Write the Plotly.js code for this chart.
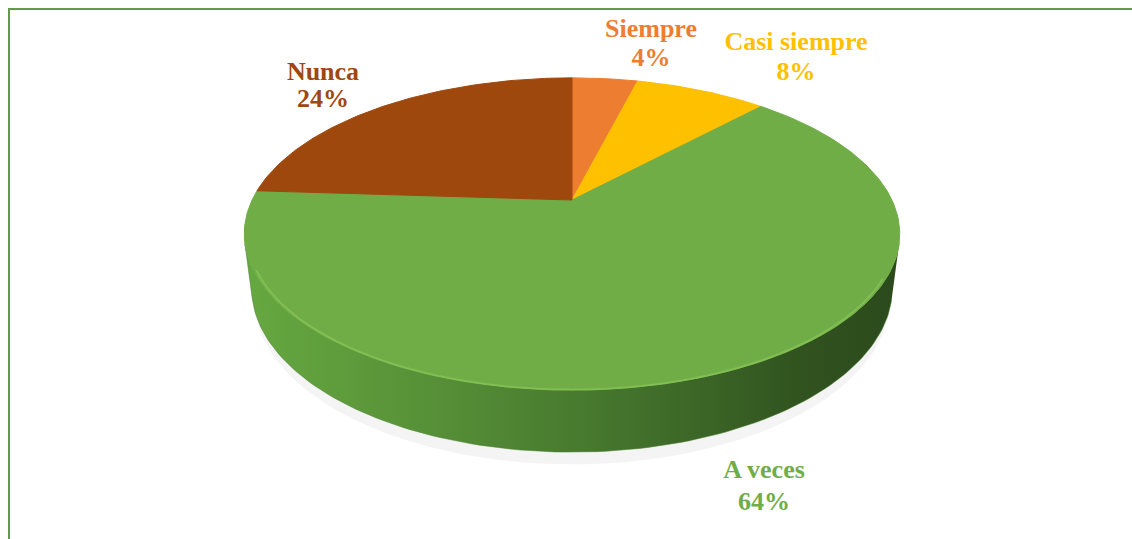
<!DOCTYPE html>
<html>
<head>
<meta charset="utf-8">
<script src="https://cdn.plot.ly/plotly-3.0.1.min.js"></script>
<style>
  html, body { margin: 0; padding: 0; background: #ffffff; }
  #chart { width: 1132px; height: 539px; }
  #chart text.textpoint, #chart text.textpoint tspan {
    font-family: "Liberation Serif", "Times New Roman", serif !important;
  }
</style>
</head>
<body>
<div id="chart"></div>
<script>
// ---- Data ----
const categories = ["Siempre", "Casi siempre", "A veces", "Nunca"];
const values = [4, 8, 64, 24];
const sliceColors = ["#ED7D31", "#FFC000", "#70AD47", "#9E480E"];
const percentLabels = values.map(v => v + "%");

// ---- 3D pie projection (perspective view of a tilted disc) ----
const CX = 572, CY = 200;          // screen position of the disc centre
const F = 1302, D = 4.07;          // focal length, camera distance (radius units)
const PHI = 27.7 * Math.PI / 180;  // elevation
const H = 0.191;                    // thickness (radius units)
const sP = Math.sin(PHI), cP = Math.cos(PHI);

function proj(thetaDeg, z, r) {
  r = (r === undefined) ? 1 : r;
  const t = thetaDeg * Math.PI / 180;
  const u = r * Math.sin(t), v = r * Math.cos(t);
  const yc = v * sP + z * cP;
  const depth = D + v * cP - z * sP;
  return [CX + F * u / depth, CY - F * yc / depth];
}

const traces = [];

// soft shadow under the pie
(function () {
  const xs = [], ys = [];
  for (let a = 0; a <= 360; a += 2) {
    const p = proj(a, -H - 0.03, 0.995);
    xs.push(p[0]); ys.push(p[1] + 4);
  }
  traces.push({x: xs, y: ys, type: "scatter", mode: "lines", fill: "toself",
    fillcolor: "rgba(110,110,110,0.08)", line: {width: 0, color: "rgba(0,0,0,0)"},
    hoverinfo: "skip"});
})();

// visible side wall (front-facing part of the cylinder)
(function () {
  const lim = Math.acos(-1 / (D * cP)) * 180 / Math.PI;
  const a0 = lim, a1 = 360 - lim;
  const xs = [], ys = [];
  const n = 120;
  for (let i = 0; i <= n; i++) {
    const a = a0 + (a1 - a0) * i / n;
    const p = proj(a, 0); xs.push(p[0]); ys.push(p[1]);
  }
  for (let i = n; i >= 0; i--) {
    const a = a0 + (a1 - a0) * i / n;
    const p = proj(a, -H); xs.push(p[0]); ys.push(p[1]);
  }
  traces.push({x: xs, y: ys, type: "scatter", mode: "lines", fill: "toself",
    fillgradient: {type: "horizontal",
      colorscale: [[0, "#66a840"], [0.3, "#568f37"], [0.6, "#42712b"], [0.85, "#31531f"], [1, "#2b4a1c"]]},
    line: {width: 0.5, color: "#4a7d30"}, hoverinfo: "skip"});
})();

// top face slices (clockwise from 12 o'clock)
(function () {
  const total = values.reduce((s, v) => s + v, 0);
  let start = 0;
  values.forEach((v, i) => {
    const end = start + v / total * 360;
    const c = proj(0, 0, 0);
    const xs = [c[0]], ys = [c[1]];
    const steps = Math.max(4, Math.ceil(end - start));
    for (let k = 0; k <= steps; k++) {
      const a = start + (end - start) * k / steps;
      const p = proj(a, 0); xs.push(p[0]); ys.push(p[1]);
    }
    xs.push(c[0]); ys.push(c[1]);
    traces.push({x: xs, y: ys, type: "scatter", mode: "lines", fill: "toself",
      fillcolor: sliceColors[i], line: {width: 1, color: sliceColors[i]},
      name: categories[i], hoverinfo: "skip"});
    start = end;
  });
})();

// light bevel along the front rim
(function () {
  const xs = [], ys = [];
  for (let a = 118; a <= 245; a += 1) {
    const p = proj(a, -0.006, 0.99); xs.push(p[0]); ys.push(p[1]);
  }
  traces.push({x: xs, y: ys, type: "scatter", mode: "lines",
    line: {width: 2, color: "rgba(145,210,95,0.5)", shape: "spline"}, hoverinfo: "skip"});
})();

// ---- Labels (text traces, serif bold) ----
const labelX = [651, 796, 764, 323];
const labelNameY = [30, 43, 471, 73];
const labelPctY = [59, 73, 503, 100];
traces.push({
  x: labelX.concat(labelX),
  y: labelNameY.concat(labelPctY),
  text: categories.map(c => "<b>" + c + "</b>").concat(percentLabels.map(p => "<b>" + p + "</b>")),
  type: "scatter", mode: "text", textposition: "middle center",
  textfont: {family: "Liberation Serif", size: 26, color: sliceColors.concat(sliceColors)},
  hoverinfo: "skip"
});

const layout = {
  width: 1132, height: 539,
  margin: {l: 0, r: 0, t: 0, b: 0},
  paper_bgcolor: "#ffffff", plot_bgcolor: "#ffffff",
  showlegend: false, hovermode: false,
  xaxis: {range: [0, 1132], visible: false, fixedrange: true},
  yaxis: {range: [539, 0], visible: false, fixedrange: true},
  shapes: [
    {type: "line", xref: "x", yref: "y", x0: 8, x1: 1132, y0: 9, y1: 9, line: {color: "#679846", width: 2}},
    {type: "line", xref: "x", yref: "y", x0: 9, x1: 9, y0: 8, y1: 539, line: {color: "#679846", width: 2}}
  ]
};

Plotly.newPlot("chart", traces, layout, {staticPlot: true});
</script>
</body>
</html>
